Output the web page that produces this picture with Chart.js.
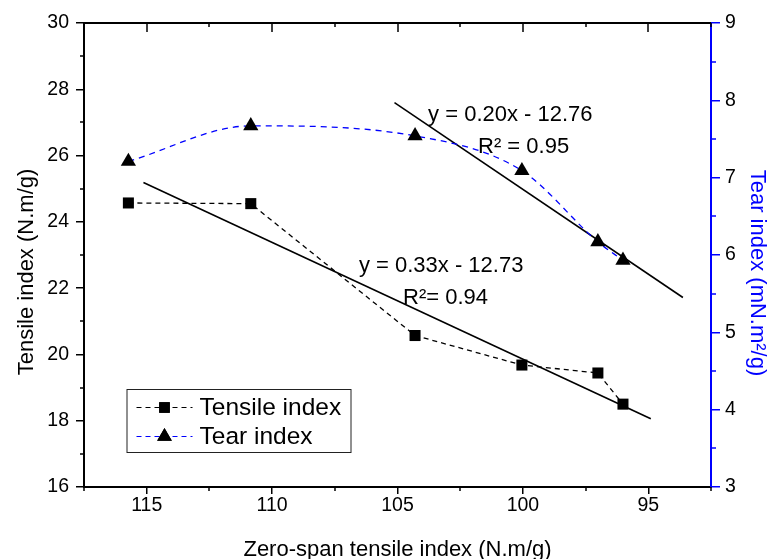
<!DOCTYPE html>
<html>
<head>
<meta charset="utf-8">
<script src="https://cdn.jsdelivr.net/npm/chart.js@4"></script>
<style>
  html, body { margin: 0; padding: 0; background: #fff; }
  #wrap { width: 770px; height: 559px; position: relative; }
</style>
</head>
<body>
<div id="wrap"><canvas id="c"></canvas></div>
<script>
// ---- data ----
const zeroSpanTensile = [115.73, 110.85, 104.30, 100.04, 97.01, 96.01];   // x (N.m/g)
const tensileIndex    = [24.57, 24.55, 20.57, 19.68, 19.44, 18.50];       // left axis
const tearIndex       = [7.21, 7.67, 7.54, 7.09, 6.17, 5.93];             // right axis
const tensileFitX     = [115.13, 94.90];
const tensileFitY     = [25.19, 18.06];
const tearFitX        = [105.12, 93.62];
const tearFitY        = [7.97, 5.45];
const xMajorTicks     = [115, 110, 105, 100, 95];
const xMinorTicks     = [117.5, 112.5, 107.5, 102.5, 97.5, 92.5];
const yMajorTicks     = [16, 18, 20, 22, 24, 26, 28, 30];
const yMinorTicks     = [17, 19, 21, 23, 25, 27, 29];
const y1MajorTicks    = [3, 4, 5, 6, 7, 8, 9];
const y1MinorTicks    = [3.5, 4.5, 5.5, 6.5, 7.5, 8.5];
const seriesNames     = ['Tensile index', 'Tear index'];
const fitLabels = [
  { eq: 'y = 0.20x - 12.76', r2: 'R\u00B2 = 0.95', eqX: 103.78, eqY: 27.05, rX: 101.79, rY: 26.09 },
  { eq: 'y = 0.33x - 12.73', r2: 'R\u00B2= 0.94',  eqX: 106.54, eqY: 22.50, rX: 104.78, rY: 21.53 }
];
const FONT = '"Liberation Sans", Arial, sans-serif';
const BLUE = '#0000FF';

const pts = (xs, ys) => xs.map((x, i) => ({ x: x, y: ys[i] }));

const decor = {
  id: 'decor',
  afterDraw(chart) {
    const ctx = chart.ctx;
    const a = chart.chartArea;
    const sx = chart.scales.x, sy = chart.scales.y, sy1 = chart.scales.y1;
    ctx.save();
    // minor ticks
    ctx.lineWidth = 1.5;
    ctx.strokeStyle = '#000';
    ctx.beginPath();
    xMinorTicks.forEach(v => { const p = Math.round(sx.getPixelForValue(v)); ctx.moveTo(p, a.bottom); ctx.lineTo(p, a.bottom + 4); });
    yMinorTicks.forEach(v => { const p = Math.round(sy.getPixelForValue(v)); ctx.moveTo(a.left, p); ctx.lineTo(a.left - 4, p); });
    // top mirror axis (ticks inward)
    xMajorTicks.forEach(v => { const p = Math.round(sx.getPixelForValue(v)); ctx.moveTo(p, a.top); ctx.lineTo(p, a.top + 9); });
    xMinorTicks.forEach(v => { const p = Math.round(sx.getPixelForValue(v)); ctx.moveTo(p, a.top); ctx.lineTo(p, a.top + 4); });
    ctx.stroke();
    ctx.lineWidth = 2;
    ctx.beginPath();
    ctx.moveTo(a.left - 1, a.top); ctx.lineTo(a.right, a.top);
    ctx.stroke();
    ctx.strokeStyle = BLUE;
    ctx.lineWidth = 1.5;
    ctx.beginPath();
    y1MinorTicks.forEach(v => { const p = Math.round(sy1.getPixelForValue(v)); ctx.moveTo(a.right, p); ctx.lineTo(a.right + 5, p); });
    ctx.stroke();

    // annotations
    ctx.fillStyle = '#000';
    ctx.font = '22px ' + FONT;
    ctx.textAlign = 'left';
    ctx.textBaseline = 'alphabetic';
    fitLabels.forEach(f => {
      ctx.fillText(f.eq, sx.getPixelForValue(f.eqX), sy.getPixelForValue(f.eqY));
      ctx.fillText(f.r2, sx.getPixelForValue(f.rX), sy.getPixelForValue(f.rY));
    });

    // axis titles
    ctx.font = '22px ' + FONT;
    ctx.textAlign = 'center';
    ctx.fillText('Zero-span tensile index (N.m/g)', (a.left + a.right) / 2, 556);
    ctx.save();
    ctx.translate(33, 272);
    ctx.rotate(-Math.PI / 2);
    ctx.fillText('Tensile index (N.m/g)', 0, 0);
    ctx.restore();
    ctx.save();
    ctx.fillStyle = BLUE;
    ctx.translate(751, 273);
    ctx.rotate(Math.PI / 2);
    ctx.fillText('Tear index (mN.m\u00B2/g)', 0, 0);
    ctx.restore();

    // legend
    const lx = a.left + 42.5, ly = a.bottom - 98;
    ctx.strokeStyle = '#222';
    ctx.lineWidth = 1;
    ctx.strokeRect(lx + 0.5, ly + 0.5, 224, 63);
    const rows = [
      { color: '#000', dash: [5, 4], style: 'rect', r: 7.5 },
      { color: BLUE, dash: [5, 4], style: 'triangle', r: 8.5 }
    ];
    ctx.font = '24.5px ' + FONT;
    ctx.textAlign = 'left';
    ctx.textBaseline = 'middle';
    rows.forEach((row, i) => {
      const cy = ly + 18.5 + i * 29;
      ctx.save();
      ctx.strokeStyle = row.color;
      ctx.lineWidth = 1.2;
      ctx.setLineDash(row.dash);
      ctx.beginPath();
      ctx.moveTo(lx + 10, cy); ctx.lineTo(lx + 66, cy);
      ctx.stroke();
      ctx.restore();
      ctx.fillStyle = '#000';
      Chart.helpers.drawPoint(ctx, { pointStyle: row.style, radius: row.r, borderWidth: 0 }, lx + 38, cy);
      ctx.fill();
      ctx.fillStyle = '#000';
      ctx.fillText(seriesNames[i], lx + 73, cy + 1);
    });
    ctx.restore();
  }
};

new Chart(document.getElementById('c'), {
  type: 'line',
  data: {
    datasets: [
      {
        label: seriesNames[0], data: pts(zeroSpanTensile, tensileIndex), yAxisID: 'y',
        borderColor: '#000', borderWidth: 1.3, borderDash: [5, 4], tension: 0,
        pointStyle: 'rect', pointRadius: 7.8, pointBackgroundColor: '#000', pointBorderWidth: 0,
        order: 0
      },
      {
        label: seriesNames[1], data: pts(zeroSpanTensile, tearIndex), yAxisID: 'y1',
        borderColor: BLUE, borderWidth: 1.3, borderDash: [6, 5], cubicInterpolationMode: 'monotone',
        pointStyle: 'triangle', pointRadius: 8.8, pointBackgroundColor: '#000', pointBorderWidth: 0,
        order: 0
      },
      {
        label: 'tensile fit', data: pts(tensileFitX, tensileFitY), yAxisID: 'y',
        borderColor: '#000', borderWidth: 1.6, pointRadius: 0, order: 1
      },
      {
        label: 'tear fit', data: pts(tearFitX, tearFitY), yAxisID: 'y1',
        borderColor: '#000', borderWidth: 1.6, pointRadius: 0, order: 1
      }
    ]
  },
  options: {
    responsive: true,
    maintainAspectRatio: false,
    animation: false,
    events: [],
    layout: { padding: { top: 23, left: 0, right: 0, bottom: 0 } },
    plugins: { legend: { display: false }, tooltip: { enabled: false } },
    scales: {
      x: {
        type: 'linear', position: 'bottom', min: 92.5, max: 117.5, reverse: true,
        afterBuildTicks: s => { s.ticks = xMajorTicks.map(v => ({ value: v })); },
        afterFit: s => { s.height = 72; },
        border: { display: true, color: '#000', width: 2 },
        grid: { display: true, drawOnChartArea: false, drawTicks: true, tickLength: 7, color: '#000', lineWidth: 1.5 },
        ticks: { color: '#000', font: { family: FONT, size: 19.5 }, padding: 0, maxRotation: 0 }
      },
      y: {
        type: 'linear', position: 'left', min: 16, max: 30,
        afterBuildTicks: s => { s.ticks = yMajorTicks.map(v => ({ value: v })); },
        afterFit: s => { s.width = 84; },
        border: { display: true, color: '#000', width: 2 },
        grid: { display: true, drawOnChartArea: false, drawTicks: true, tickLength: 8, color: '#000', lineWidth: 1.5 },
        ticks: { color: '#000', font: { family: FONT, size: 19.5 }, padding: 7 }
      },
      y1: {
        type: 'linear', position: 'right', min: 3, max: 9,
        afterBuildTicks: s => { s.ticks = y1MajorTicks.map(v => ({ value: v })); },
        afterFit: s => { s.width = 59; },
        border: { display: true, color: BLUE, width: 2 },
        grid: { display: true, drawOnChartArea: false, drawTicks: true, tickLength: 9, color: BLUE, lineWidth: 1.5 },
        ticks: { color: '#000', font: { family: FONT, size: 19.5 }, padding: 5 }
      }
    }
  },
  plugins: [decor]
});
</script>
</body>
</html>
